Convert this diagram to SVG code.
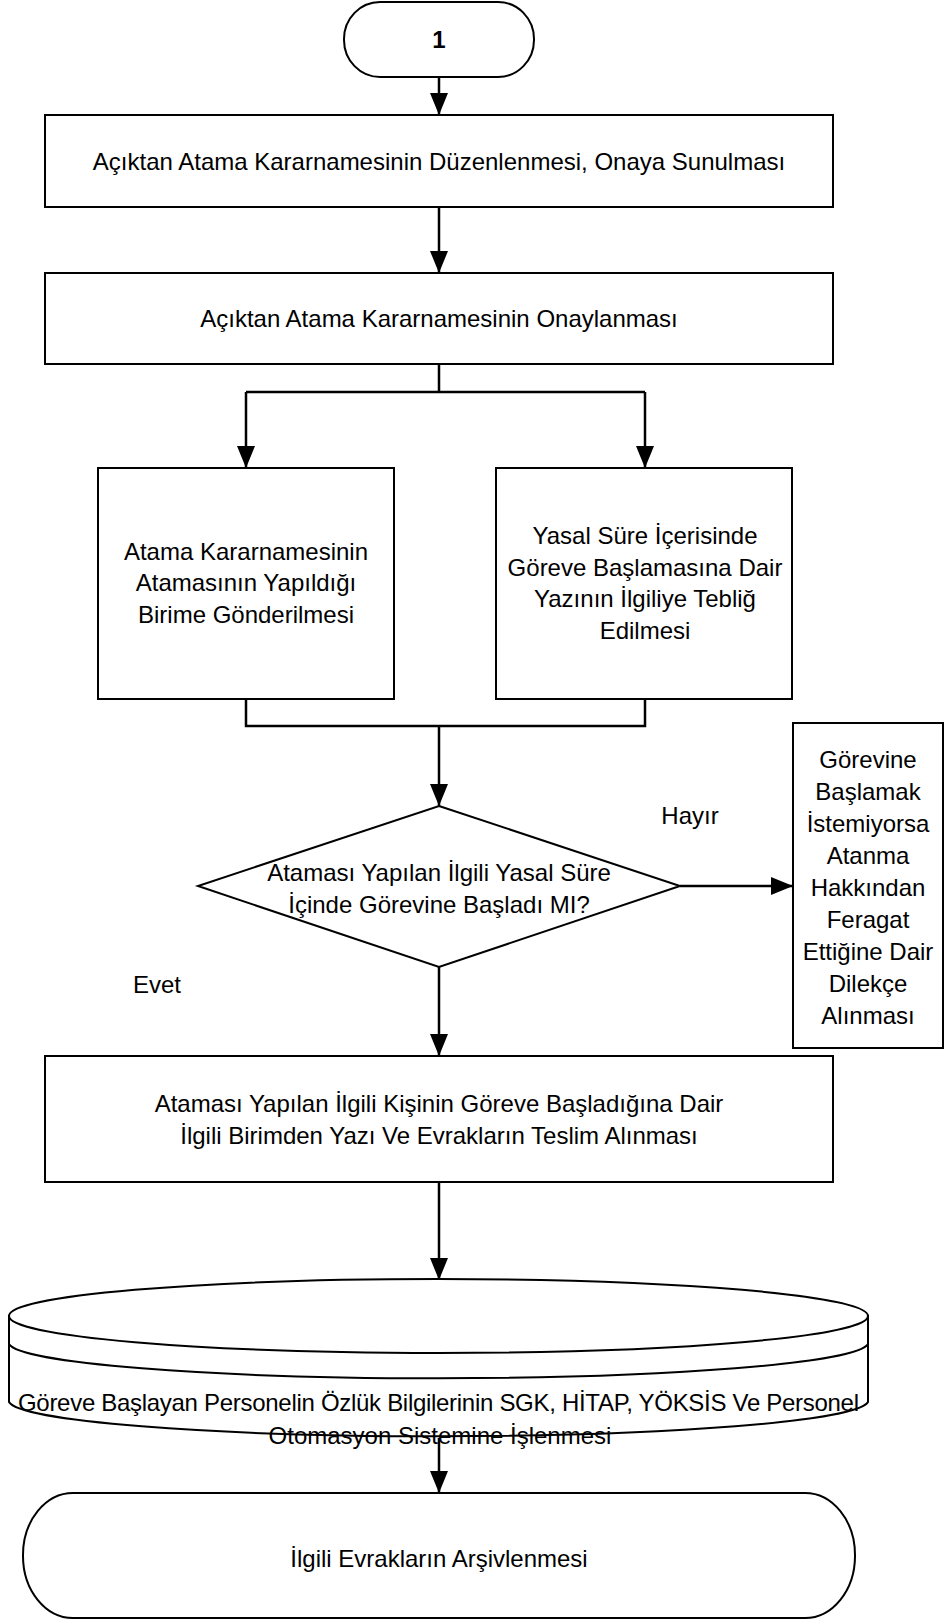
<svg xmlns="http://www.w3.org/2000/svg" width="945" height="1621" viewBox="0 0 945 1621">
<style>
.s{fill:#fff;stroke:#000;stroke-width:2}
.c{fill:none;stroke:#000;stroke-width:2.5}
.t{font-family:"Liberation Sans",Arial,sans-serif;font-size:24px;fill:#000;text-anchor:middle}
.b{font-weight:bold}
</style>
<defs>
<marker id="ah" markerWidth="22" markerHeight="18" refX="22" refY="9" viewBox="0 0 22 18" markerUnits="userSpaceOnUse" orient="auto">
<path d="M0,0 L22,9 L0,18 Z" fill="#000"/>
</marker>
</defs>
<rect width="945" height="1621" fill="#fff"/>
<g id="connectors">
<path class="c" d="M439,78 L439,115" marker-end="url(#ah)"/>
<path class="c" d="M439,207 L439,273" marker-end="url(#ah)"/>
<path class="c" d="M439,364 L439,392 M246,392 L645,392"/>
<path class="c" d="M246,392 L246,468" marker-end="url(#ah)"/>
<path class="c" d="M645,392 L645,468" marker-end="url(#ah)"/>
<path class="c" d="M246,699 L246,726 L645,726 L645,699"/>
<path class="c" d="M439,726 L439,806" marker-end="url(#ah)"/>
<path class="c" d="M680,886 L793,886" marker-end="url(#ah)"/>
<path class="c" d="M439,967 L439,1056" marker-end="url(#ah)"/>
<path class="c" d="M439,1182 L439,1280" marker-end="url(#ah)"/>
<path class="c" d="M439,1438 L439,1493" marker-end="url(#ah)"/>
</g>
<g id="start">
<rect class="s" x="344" y="2" width="190" height="75" rx="36" ry="37"/>
<text class="t b" x="439" y="48">1</text>
</g>
<g id="box1">
<rect class="s" x="45" y="115" width="788" height="92"/>
<text class="t" x="439" y="170">Açıktan Atama Kararnamesinin Düzenlenmesi, Onaya Sunulması</text>
</g>
<g id="box2">
<rect class="s" x="45" y="273" width="788" height="91"/>
<text class="t" x="439" y="327">Açıktan Atama Kararnamesinin Onaylanması</text>
</g>
<g id="box-left">
<rect class="s" x="98" y="468" width="296" height="231"/>
<text class="t" x="246" y="560">Atama Kararnamesinin</text>
<text class="t" x="246" y="591">Atamasının Yapıldığı</text>
<text class="t" x="246" y="623">Birime Gönderilmesi</text>
</g>
<g id="box-right">
<rect class="s" x="496" y="468" width="296" height="231"/>
<text class="t" x="645" y="544">Yasal Süre İçerisinde</text>
<text class="t" x="645" y="576">Göreve Başlamasına Dair</text>
<text class="t" x="645" y="607">Yazının İlgiliye Tebliğ</text>
<text class="t" x="645" y="639">Edilmesi</text>
</g>
<g id="decision">
<polygon class="s" points="439,806 680,886 439,967 198,886"/>
<text class="t" x="439" y="881">Ataması Yapılan İlgili Yasal Süre</text>
<text class="t" x="439" y="913">İçinde Görevine Başladı MI?</text>
</g>
<g id="label-hayir">
<text class="t" x="690" y="824">Hayır</text>
</g>
<g id="label-evet">
<text class="t" x="157" y="993">Evet</text>
</g>
<g id="box-feragat">
<rect class="s" x="793" y="723" width="150" height="325"/>
<text class="t" x="868" y="768">Görevine</text>
<text class="t" x="868" y="800">Başlamak</text>
<text class="t" x="868" y="832">İstemiyorsa</text>
<text class="t" x="868" y="864">Atanma</text>
<text class="t" x="868" y="896">Hakkından</text>
<text class="t" x="868" y="928">Feragat</text>
<text class="t" x="868" y="960">Ettiğine Dair</text>
<text class="t" x="868" y="992">Dilekçe</text>
<text class="t" x="868" y="1024">Alınması</text>
</g>
<g id="box3">
<rect class="s" x="45" y="1056" width="788" height="126"/>
<text class="t" x="439" y="1112">Ataması Yapılan İlgili Kişinin Göreve Başladığına Dair</text>
<text class="t" x="439" y="1144">İlgili Birimden Yazı Ve Evrakların Teslim Alınması</text>
</g>
<g id="database">
<path class="s" d="M9,1316 L9,1402 A430,36 0 0 0 868,1402 L868,1316 Z"/>
<ellipse class="s" cx="438.5" cy="1316" rx="429.5" ry="37"/>
<path class="s" d="M9,1344 A430,36 0 0 0 868,1344" style="fill:none"/>
<text class="t" x="438.5" y="1411" textLength="841">Göreve Başlayan Personelin Özlük Bilgilerinin SGK, HİTAP, YÖKSİS Ve  Personel</text>
<text class="t" x="440" y="1444">Otomasyon Sistemine İşlenmesi</text>
</g>
<g id="end">
<rect class="s" x="23" y="1493" width="832" height="125" rx="50" ry="62"/>
<text class="t" x="439" y="1567">İlgili Evrakların Arşivlenmesi</text>
</g>
</svg>
